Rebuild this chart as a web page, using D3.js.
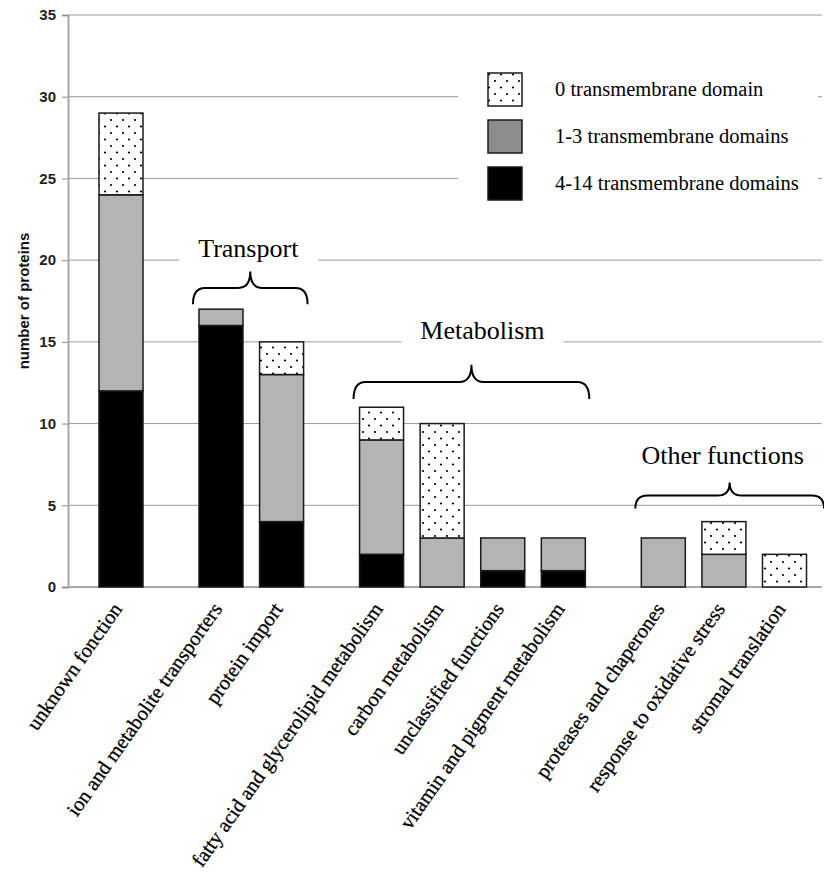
<!DOCTYPE html>
<html>
<head>
<meta charset="utf-8">
<script src="https://cdn.jsdelivr.net/npm/d3@7"></script>
<style>
  html, body { margin: 0; padding: 0; background: #fff; }
  svg { display: block; }
</style>
</head>
<body>
<svg id="chart" width="824" height="872"></svg>
<script>
// ---------- data ----------
const categories = [
  "unknown fonction",
  "ion and metabolite transporters",
  "protein import",
  "fatty acid and glycerolipid metabolism",
  "carbon metabolism",
  "unclassified functions",
  "vitamin and pigment metabolism",
  "proteases and chaperones",
  "response to oxidative stress",
  "stromal translation"
];
const categoryGroup = [0, 1, 1, 2, 2, 2, 2, 3, 3, 3];
const tm4to14 = [12, 16, 4, 2, 0, 1, 1, 0, 0, 0];
const tm1to3  = [12, 1, 9, 7, 3, 2, 2, 3, 2, 0];
const tm0     = [5, 0, 2, 2, 7, 0, 0, 0, 2, 2];
const seriesKeys = ["tm4to14", "tm1to3", "tm0"];
const legendLabels = ["0 transmembrane domain", "1-3 transmembrane domains", "4-14 transmembrane domains"];
const legendKeys = ["tm0", "tm1to3", "tm4to14"];
const groupNames = ["Transport", "Metabolism", "Other functions"];
const groupIds = [1, 2, 3];
// brace annotation levels (data units): label baseline, brace tip, brace ends
const groupLabelLevel = [20.2, 15.2, 7.5];
const braceTipLevel = [19.3, 13.6, 6.4];
const braceEndLevel = [17.3, 11.5, 4.8];
const yTicks = [0, 5, 10, 15, 20, 25, 30, 35];
const yLabel = "number of proteins";

// ---------- layout ----------
const svg = d3.select("#chart");
const plot = { left: 68, right: 822, top: 15, bottom: 587 };
const groupGap = 0.65;
const slot = categories.map((c, i) => i + categoryGroup[i] * groupGap);
const barW = 44;
const labelShift = [-2, 11, -7];

const x = d3.scaleLinear().domain([0, slot[slot.length - 1]]).range([121, 784.5]);
const y = d3.scaleLinear().domain([0, 35]).range([plot.bottom, plot.top]);

const fills = { tm4to14: "#000000", tm1to3: "#b4b4b4", tm0: "url(#dots)" };
const legendFills = { tm4to14: "#000000", tm1to3: "#8c8c8c", tm0: "url(#dots)" };
const serif = "'Liberation Serif', 'Times New Roman', serif";
const sans = "'Liberation Sans', Arial, sans-serif";

// pattern
const defs = svg.append("defs");
const pat = defs.append("pattern").attr("id", "dots").attr("patternUnits", "userSpaceOnUse")
  .attr("width", 12).attr("height", 13);
pat.append("rect").attr("width", 12).attr("height", 13).attr("fill", "#fff");
pat.append("circle").attr("cx", 3).attr("cy", 3).attr("r", 1.1).attr("fill", "#000");
pat.append("circle").attr("cx", 9).attr("cy", 9.5).attr("r", 1.1).attr("fill", "#000");

// gridlines
svg.append("g").selectAll("line").data(yTicks.filter(t => t > 0)).join("line")
  .attr("x1", plot.left).attr("x2", plot.right)
  .attr("y1", d => y(d)).attr("y2", d => y(d))
  .attr("stroke", "#9a9a9a").attr("stroke-width", 1);

// layer for annotation masks (above gridlines, below marks)
const maskLayer = svg.append("g");

// y axis
const yAxis = svg.append("g").attr("transform", `translate(${plot.left},0)`)
  .call(d3.axisLeft(y).tickValues(yTicks).tickSize(6).tickPadding(6));
yAxis.select(".domain").attr("stroke", "#a8a8a8").attr("stroke-width", 2);
yAxis.selectAll(".tick line").attr("stroke", "#8a8a8a");
yAxis.selectAll(".tick text").attr("font-family", sans)
  .attr("font-size", 15).attr("font-weight", "bold").attr("fill", "#222");

// baseline
svg.append("line").attr("x1", plot.left).attr("x2", plot.right)
  .attr("y1", y(0)).attr("y2", y(0)).attr("stroke", "#a8a8a8").attr("stroke-width", 2);

// y label
svg.append("text").attr("transform", `translate(29,301) rotate(-90)`)
  .attr("text-anchor", "middle").attr("font-family", sans)
  .attr("font-size", 15).attr("font-weight", "bold").attr("fill", "#111").text(yLabel);

// stacked bars
const rows = categories.map((c, i) => ({ cat: c, i, tm4to14: tm4to14[i], tm1to3: tm1to3[i], tm0: tm0[i] }));
const stacked = d3.stack().keys(seriesKeys)(rows);
const barsG = svg.append("g");
stacked.forEach(layer => {
  barsG.append("g").selectAll("rect")
    .data(layer.filter(d => d[1] - d[0] > 0)).join("rect")
    .attr("x", d => x(slot[d.data.i]) - barW / 2)
    .attr("y", d => y(d[1]))
    .attr("width", barW)
    .attr("height", d => y(d[0]) - y(d[1]))
    .attr("fill", fills[layer.key])
    .attr("stroke", "#1a1a1a").attr("stroke-width", 1.5);
});

// x labels
svg.append("g").selectAll("text").data(categories).join("text")
  .attr("transform", (d, i) => `translate(${x(slot[i]) + 2},${y(0) + 22}) rotate(-55)`)
  .attr("text-anchor", "end")
  .attr("font-family", serif)
  .attr("font-size", 20.5).attr("fill", "#000")
  .attr("stroke", "#000").attr("stroke-width", 0.3)
  .text(d => d);

// group labels + braces
function bracePath(x1, x2, yTip, yEnd) {
  const yH = (yTip + yEnd) / 2;
  const xm = (x1 + x2) / 2;
  const r = Math.min(12, (x2 - x1) / 6);
  return `M${x1},${yEnd} Q${x1},${yH} ${x1 + r},${yH} L${xm - r},${yH} Q${xm},${yH} ${xm},${yTip}` +
         ` Q${xm},${yH} ${xm + r},${yH} L${x2 - r},${yH} Q${x2},${yH} ${x2},${yEnd}`;
}
const annG = svg.append("g");
groupIds.forEach((g, k) => {
  const idx = categories.map((c, i) => i).filter(i => categoryGroup[i] === g);
  const xl = x(slot[idx[0]]) - barW / 2 - 6;
  let xr = x(slot[idx[idx.length - 1]]) + barW / 2 + 4;
  if (k === 2) xr = Math.min(plot.right + 2, xr + 16);
  const xc = (xl + xr) / 2;
  const t = annG.append("text").attr("x", xc + labelShift[k]).attr("y", y(groupLabelLevel[k]))
    .attr("text-anchor", "middle")
    .attr("font-family", serif)
    .attr("font-size", 26).attr("fill", "#000").text(groupNames[k]);
  const bb = t.node().getBBox();
  maskLayer.append("rect").attr("x", bb.x - 19).attr("y", bb.y).attr("width", bb.width + 38)
    .attr("height", bb.height + 6).attr("fill", "#fff");
  annG.append("path").attr("d", bracePath(xl, xr, y(braceTipLevel[k]), y(braceEndLevel[k])))
    .attr("fill", "none").attr("stroke", "#000").attr("stroke-width", 2);
});

// legend
const lg = svg.append("g");
lg.append("rect").attr("x", 458).attr("y", 60).attr("width", 360).attr("height", 155).attr("fill", "#fff");
legendKeys.forEach((k, j) => {
  const top = 73 + j * 47;
  lg.append("rect").attr("x", 488).attr("y", top).attr("width", 34).attr("height", 33)
    .attr("fill", legendFills[k]).attr("stroke", "#1a1a1a").attr("stroke-width", 1.5);
  lg.append("text").attr("x", 555).attr("y", top + 23)
    .attr("font-family", serif)
    .attr("font-size", 20.5).attr("fill", "#000").text(legendLabels[j]);
});
</script>
</body>
</html>
